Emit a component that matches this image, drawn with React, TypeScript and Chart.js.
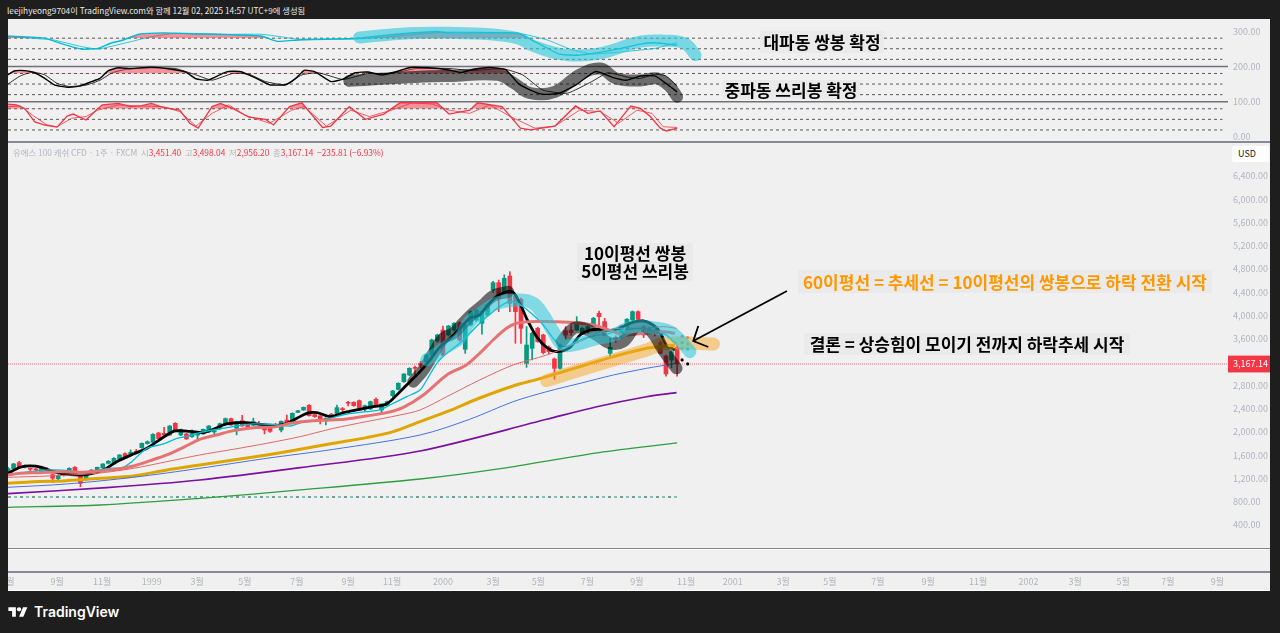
// App.tsx - US100 weekly chart with stochastic panes and hand drawn notes
import { useEffect, useRef } from 'react'
import { Chart, registerables } from 'chart.js'

Chart.register(...registerables)

type Pt = [number, number]

const FONT = '"Noto Sans CJK KR", "Noto Sans", sans-serif'
const UP = '#089981'
const DOWN = '#f23645'
const lastClose = 3167.14

// weekly candles, week 0 = first bar on the left
const opens = [1288,1369,1472,1397,1369,1357,1317,1363,1266,1197,1265,1288,1392,1248,1185,1283,1311,1380,1460,1449,1535,1627,1621,1665,1730,1799,1821,1982,1976,1947,2148,1947,1965,1919,1945,1965,1999,1999,2056,2131,2228,2062,2194,2131,2115,2148,2108,2079,2120,2033,2205,2177,2337,2377,2457,2297,2274,2194,2303,2303,2394,2503,2509,2538,2389,2394,2560,2377,2463,2624,2732,2864,2979,3110,3179,3208,3322,3563,3752,3666,3752,3878,3420,3838,3924,3867,4010,4440,4566,4411,4681,4337,4279,3179,3437,3781,3666,3454,3254,3093,3741,3752,3752,3695,3723,3821,4039,3896,3351,3626,3626,3781,3924,4067,3810,3781,3752,3535,3305,3236,3451.4]
const highs = [1392,1460,1495,1430,1380,1380,1410,1385,1290,1262,1300,1385,1405,1262,1300,1350,1395,1455,1510,1560,1610,1640,1690,1700,1810,1845,1970,1995,2079,2110,2160,2050,1975,2035,1975,2050,2110,2030,2150,2240,2240,2185,2285,2140,2235,2180,2115,2095,2150,2190,2290,2330,2370,2430,2470,2310,2320,2245,2320,2460,2420,2526,2520,2550,2460,2530,2585,2480,2530,2715,2845,3005,3105,3130,3215,3335,3595,3680,3821,3830,3880,3890,3850,4080,4110,4080,4195,4590,4610,4700,4755,4350,4300,3810,3710,3800,3680,3480,3270,3510,3810,3840,3981,3795,3825,3970,4079,3953,3610,3650,3835,3950,4080,4080,3825,3800,3770,3560,3320,3400,3498.04]
const lows = [1254,1340,1380,1380,1300,1315,1300,1295,1128,1175,1240,1270,1265,1059,1165,1275,1300,1370,1450,1440,1525,1540,1610,1640,1720,1790,1815,1870,1940,1940,2000,1935,1870,1905,1860,1955,1990,1936,2045,2120,2110,1950,2095,2050,2105,2120,1965,1990,2095,2000,2160,2165,2330,2370,2270,2250,2136,2120,2260,2295,2330,2446,2440,2400,2349,2385,2430,2308,2450,2600,2720,2850,2965,2950,3100,3190,3300,3540,3300,3650,3735,3560,3351,3825,3900,3680,3990,4400,4067,4390,4067,3523,3523,3110,3236,3540,3340,3340,2904,3080,3580,3660,3740,3680,3700,3810,3838,3650,3300,3540,3610,3770,3900,3920,3620,3700,3650,3340,2960,3100,2956.2]
const closes = [1369,1449,1392,1420,1357,1346,1392,1306,1203,1243,1290,1374,1277,1117,1288,1346,1392,1449,1495,1546,1604,1552,1650,1650,1804,1833,1959,1884,1947,2102,2010,2045,1879,1976,1960,2045,2102,2020,2142,2228,2119,2177,2102,2062,2177,2130,2033,2010,2105,2182,2170,2320,2365,2423,2280,2263,2217,2234,2263,2418,2383,2492,2452,2406,2452,2520,2446,2480,2520,2704,2836,2996,3093,3093,3145,3322,3580,3666,3322,3821,3867,3580,3838,4067,4096,4067,4182,4566,4297,4640,4211,4067,3781,3494,3695,3552,3363,3380,3093,3494,3666,3707,3867,3781,3810,3953,3981,3666,3454,3592,3821,3936,4067,3936,3666,3723,3695,3351,2996,3380,lastClose]
const weeks = opens.map((_, i) => i)

// moving averages as [week, price]
const ma5: Pt[] = [[0,1288],[2.2,1392],[4,1415],[6,1392],[8.1,1317],[11.1,1266],[14.1,1266],[17.1,1346],[19.5,1489],[22.5,1621],[24.9,1718],[26.7,1833],[28.5,1947],[30,2016],[32.6,2010],[35,1987],[36.8,2045],[39.2,2137],[42.2,2165],[44.6,2137],[48.2,2114],[50,2148],[51.8,2234],[53.6,2320],[55.4,2331],[57.8,2263],[60.2,2331],[63.1,2389],[65.5,2435],[67.9,2480],[70.3,2692],[72.1,2864],[73.9,3036],[75.7,3237],[77.5,3466],[79.3,3609],[81.1,3781],[82.8,3953],[84.6,4010],[85.8,4153],[87.6,4325],[89.1,4400],[90.6,4400],[91.8,4211],[93,3953],[94.8,3638],[96.6,3454],[98.4,3380],[100.8,3454],[102.6,3666],[104.4,3752],[106.2,3764],[108,3741],[109.7,3781],[111.5,3867],[113.9,3907],[115.7,3838],[116.9,3724],[118.1,3494],[119.6,3408]]
const ma10: Pt[] = [[0,1254],[4,1317],[7.5,1346],[11,1334],[13.5,1288],[17.7,1369],[20.7,1392],[22.2,1489],[24.9,1718],[27.9,1793],[30.3,1890],[31.8,1919],[34.4,1987],[36.8,2033],[40.4,2091],[44,2137],[48.2,2125],[50.6,2102],[53,2171],[56,2194],[58.4,2251],[60.8,2308],[64.3,2348],[66.7,2377],[68.5,2463],[71.5,2606],[73.9,2721],[75.1,2893],[76.9,3179],[78.7,3351],[81,3523],[83.4,3752],[85.2,3924],[87,4067],[89.1,4211],[90.6,4239],[92.4,4153],[94.2,4010],[96,3838],[97.8,3609],[99.3,3466],[100.8,3494],[102.6,3580],[105,3649],[107.4,3683],[109.7,3741],[113.3,3781],[115.7,3752],[118.1,3666],[119.3,3552],[120,3523]]
const ma20: Pt[] = [[0,1260],[2.2,1288],[5.7,1300],[9.3,1317],[12.9,1306],[16.5,1329],[19.5,1357],[22.5,1415],[25.5,1506],[28.5,1604],[31.5,1735],[34.4,1873],[37.4,1947],[40.4,2022],[44,2073],[48.2,2091],[50.6,2148],[54.2,2188],[57.8,2205],[60.8,2222],[64.3,2274],[67.9,2331],[70.9,2423],[74.5,2635],[78.7,2979],[82.2,3151],[84.6,3351],[87,3580],[89.4,3781],[91.2,3867],[93.6,3896],[96.6,3896],[101.4,3878],[105,3838],[108.6,3724],[110.3,3666],[113.9,3695],[117.5,3724],[119.6,3695]]
const ma30: Pt[] = [[0,1220],[7.5,1243],[15.9,1288],[22.5,1374],[28.5,1489],[34.4,1604],[40.4,1701],[46.4,1804],[52.4,1919],[58.4,2062],[64.3,2177],[70.3,2291],[73.9,2377],[78.7,2606],[84.6,2893],[90.6,3151],[96.6,3322],[102.6,3552],[106.2,3724],[109.7,3781],[113.9,3781],[117.5,3810],[119.9,3781]]
const ma60: Pt[] = [[0,1117],[4.5,1145],[10.5,1162],[16.5,1202],[22.5,1243],[28.5,1346],[34.4,1432],[40.4,1518],[46.4,1604],[52.4,1701],[58.4,1804],[64.3,1902],[69.1,2005],[73.9,2177],[78.7,2348],[84.6,2583],[90.6,2790],[95.4,2916],[102.6,3122],[108.6,3294],[114.6,3437],[119.6,3494]]
const ma120: Pt[] = [[0,1048],[10.5,1105],[22.5,1220],[34.4,1374],[46.4,1546],[58.4,1701],[73.9,1947],[82.8,2217],[90.6,2520],[96.6,2692],[102.6,2835],[108.6,2979],[114.5,3093],[119.9,3179]]
const ma240: Pt[] = [[0,939],[17.7,1042],[34.4,1174],[52.4,1386],[73.9,1672],[96.6,2217],[105.6,2434],[114.5,2606],[119.9,2675]]
const ma480: Pt[] = [[0,704],[16.5,744],[34.4,859],[52.4,1002],[73.9,1191],[88.3,1370],[106,1645],[120,1810]]
const baseLevel = 881

// last projected points right of the final bar
const ma5Ahead: Pt[] = [[120.9,3237],[121.9,3168]]
const ma10Ahead: Pt[] = [[120.9,3535],[121.9,3426]]
const ma20Ahead: Pt[] = [[120.9,3644],[121.9,3620]]
const ma60Ahead: Pt[] = [[120.9,3438],[121.9,3512]]

// stochastics, stacked 0-100 / 100-200 / 200-300
const stochBigFast: Pt[] = [[0,286],[6.6,280],[9.5,265],[13.2,249],[16.1,251],[18.3,265],[20.5,274],[23.5,291],[27.8,295],[33.7,292],[39.6,290],[45.4,286],[48.3,271],[52,275],[57.1,277],[62.3,279],[67.4,288],[71.8,294],[76.9,299],[79.1,295],[91.5,294],[94.5,270],[98.9,235],[102.5,232],[108.4,246],[113.4,263],[116,267],[120,260]]
const stochBigSlow: Pt[] = [[0,284],[8.1,275],[13.2,256],[16.1,249],[18.3,256],[22,270],[25.7,284],[30,294],[39.6,291],[45.4,291],[49,284],[52,277],[57,277],[64.5,279],[71.8,289],[79,297],[91.5,294],[96.7,275],[101,248],[104.8,235],[110.6,242],[116,251],[120,267]]
const stochMidFast: Pt[] = [[0,176],[1.1,187],[3,188],[4.8,182],[6.6,166],[8.4,147],[10.6,141],[12.8,144],[15,157],[16.5,166],[18,188],[19.8,196],[22,194],[25.7,198],[29.3,192],[31.9,184],[33.7,165],[35.9,161],[38.5,180],[39.6,186],[41.8,185],[44.3,168],[46.9,148],[49.8,148],[51.6,166],[53.1,189],[55,185],[57.9,157],[60.1,164],[62.3,182],[64.5,184],[67,176],[69.6,185],[72.1,197],[75.4,196],[79.1,190],[81.3,183],[83.5,192],[86.4,197],[89.3,190],[91.5,152],[93.7,133],[95.9,121],[98.9,124],[101.8,147],[105.4,186],[108.4,169],[110.9,161],[113.4,173],[116,173],[118,152],[120,128]]
const stochMidSlow: Pt[] = [[0,150],[2.2,173],[4.4,184],[6.6,176],[8.8,152],[11,143],[14,147],[16.5,161],[18.7,182],[21.3,192],[25.7,196],[30,194],[33.7,176],[36.6,161],[40.3,180],[43.2,178],[46.2,157],[49.8,148],[52.7,176],[55.7,182],[60.1,163],[64.5,180],[68.8,180],[73.2,194],[79.1,194],[83.5,188],[88.6,194],[92.3,176],[95.9,133],[100.3,124],[104.7,157],[107.6,182],[111.3,169],[113.4,166],[116,178],[118,173],[120,144]]
const stochSmallFast: Pt[] = [[0,93],[1.5,91],[3,81],[4.8,43],[6.6,34],[8.8,28],[10.6,59],[11.7,65],[14,48],[15.8,76],[16.9,91],[19.8,95],[22,86],[23.8,88],[25.7,95],[27.8,84],[30.8,76],[32.6,39],[34.1,25],[36.6,86],[38.1,95],[40.3,81],[43.2,56],[46.2,50],[47.6,34],[50.5,86],[52.7,97],[56.4,27],[57.9,31],[61.2,86],[64.1,50],[67.4,65],[70.3,97],[76.9,97],[79.1,65],[82.8,76],[84.2,97],[88.6,86],[91.9,25],[93.7,20],[98.1,31],[101.8,88],[104,67],[106.2,74],[108.7,29],[111.7,88],[113.4,81],[115.2,58],[117,25],[118.1,17],[120,25]]
const stochSmallSlow: Pt[] = [[0,86],[2.2,88],[4.4,62],[7,34],[8.8,29],[11.4,53],[14,58],[16.1,76],[19.8,91],[23.5,88],[27.8,86],[30.8,72],[33.7,31],[36.6,67],[39.6,91],[42.5,62],[46.9,39],[50.9,76],[53.1,86],[57.1,31],[61.5,76],[64.8,58],[68.8,76],[72.5,97],[76.2,93],[79.1,76],[82.8,67],[86.4,91],[90.1,58],[94.5,25],[98.1,31],[102.5,76],[106.2,72],[109.5,39],[112.8,76],[115.5,67],[117.5,29],[120,27]]
const dashedLevels = [20, 50, 80, 120, 150, 180, 220, 250, 280]
const paneLevels = [100, 200]

// brush strokes drawn over the chart
const brushBig: Pt[] = [[63,282],[71.8,294],[79.1,295],[86.4,291],[91.5,279],[94.5,256],[100.3,232],[106.2,237],[113.4,270],[117.8,273],[121.4,265],[123.3,232]]
const brushMid: Pt[] = [[61.2,159],[71.8,169],[79.1,173],[87.9,176],[90.8,152],[93.7,124],[98.1,128],[102.5,176],[106.2,194],[109.1,166],[113.4,160],[116.4,166],[118.6,144],[120,114]]
const brushRise: Pt[] = [[72.7,2864],[74.5,3065],[76.3,3351],[78.1,3609],[79.9,3695],[81.6,3867],[83.4,4039],[85.2,4182],[87,4337],[89.7,4411]]
const brushTop: Pt[] = [[99.3,3552],[101.4,3781],[103.2,3781],[105.6,3666],[108,3523],[110.3,3552],[112.7,3810],[115.1,3752],[117.5,3408],[119.9,3093]]
const brushCyan: Pt[] = [[75.1,3237],[78.7,3466],[81,3609],[82.8,3896],[85.2,4067],[87.6,4211],[91.8,4268],[94.2,4211],[96,4010],[97.8,3724],[99.6,3494],[102.6,3523],[105.6,3609],[108.6,3666],[112.1,3810],[116.3,3781],[118.7,3724],[120.5,3580],[122.3,3380]]
const brushTrend: Pt[] = [[96.6,2881],[102.6,3065],[108.6,3237],[114.5,3408],[117.5,3512],[122.3,3523],[126.5,3512]]
const arrowShaft: Pt[] = [[139.7,4422],[122.9,3563]]
const arrowHead: Pt[] = [[123.8,3821],[122.9,3563],[125.6,3460]]

// axes
const monthTickWeeks = [0,8.8,16.9,25.8,33.9,42.5,51.8,61,68.9,78,87,95.1,103.9,112.8,121.6,130,139,147.4,156,165,174,183,191.4,200,208,216.9]
const monthTickLabels = ['7월','9월','11월','1999','3월','5월','7월','9월','11월','2000','3월','5월','7월','9월','11월','2001','3월','5월','7월','9월','11월','2002','3월','5월','7월','9월']
const priceTicks = [400,800,1200,1600,2000,2400,2800,3600,4000,4400,4800,5200,5600,6000,6400,lastClose]
const stochTicks = [0,100,200,300]

const money = (v: number) => v.toLocaleString('en-US', { minimumFractionDigits: 2, maximumFractionDigits: 2 })

function line(pts: Pt[], yAxisID: string, color: string, width: number, extra: object = {}) {
  return {
    type: 'line' as const,
    data: pts.map(([x, y]) => ({ x, y })),
    yAxisID,
    borderColor: color,
    backgroundColor: color,
    borderWidth: width,
    pointRadius: 0,
    tension: 0.3,
    order: 3,
    ...extra,
  }
}

function brush(pts: Pt[], yAxisID: string, color: string, width: number) {
  return line(pts, yAxisID, color, width, { borderCapStyle: 'round', borderJoinStyle: 'round', tension: 0.4, order: 1 })
}

function dots(pts: Pt[], color: string) {
  return line(pts, 'price', color, 0, { showLine: false, pointRadius: 1.6, pointBackgroundColor: color, pointBorderWidth: 0, order: 2 })
}

function flat(value: number, to: number, yAxisID: string, color: string, width: number, extra: object = {}): any {
  return line([[0, value], [to, value]], yAxisID, color, width, { tension: 0, order: 6, ...extra })
}

const overbought = (level: number) => ({
  fill: { target: { value: level }, above: 'rgba(242,54,69,0.5)', below: 'transparent' },
})

function Note({ left, top, width, height, color = '#000', size = 17, weight = 700, children }: any) {
  return (
    <div
      style={{
        position: 'absolute', left, top, width, height,
        display: 'flex', flexDirection: 'column', alignItems: 'center', justifyContent: 'center',
        background: '#eaeaea', color, fontSize: size, fontWeight: weight, lineHeight: '18px', whiteSpace: 'nowrap',
      }}
    >
      {children}
    </div>
  )
}

function Rule({ top, height = 2, color = '#868993' }: { top: number; height?: number; color?: string }) {
  return <div style={{ position: 'absolute', left: 8, top, width: 1262, height, background: color }} />
}

export default function App() {
  const canvasRef = useRef<HTMLCanvasElement>(null)

  useEffect(() => {
    if (!canvasRef.current) return
    const tickFont = { family: FONT, size: 9 }
    const candleColors = weeks.map((i) => (closes[i] >= opens[i] ? UP : DOWN))
    // no room reserved for labels that overhang the plot
    const fitY = (axis: any) => {
      axis.width = 42
      axis.paddingTop = 0
      axis.paddingBottom = 0
    }

    const chart = new Chart(canvasRef.current, {
      type: 'bar',
      data: {
        datasets: [
          ...dashedLevels.map((v) => flat(v, 217.8, 'stoch', '#5a5a5a', 1, { borderDash: [3, 3] })),
          ...paneLevels.map((v) => flat(v, 218.8, 'stoch', '#707279', 1.5)),

          line(stochBigFast, 'stoch', '#00bcd4', 1.4, { ...overbought(280), tension: 0.15 }),
          line(stochBigSlow, 'stoch', '#00bcd4', 0.8, { tension: 0.15 }),
          line(stochMidFast, 'stoch', '#000000', 1.4, { ...overbought(180), tension: 0.15 }),
          line(stochMidSlow, 'stoch', '#000000', 0.8, { tension: 0.15 }),
          line(stochSmallFast, 'stoch', '#f23645', 1.3, { ...overbought(80), tension: 0 }),
          line(stochSmallSlow, 'stoch', '#f23645', 0.8, { tension: 0 }),

          flat(lastClose, 218.8, 'price', 'rgba(242,54,69,0.7)', 1, { borderDash: [1, 1], order: 4 }),
          flat(baseLevel, 120, 'price', '#089981', 1, { borderDash: [3, 3], order: 4 }),
          flat(baseLevel, 120, 'price', '#f23645', 1, { borderDash: [3, 9], order: 4 }),

          {
            type: 'bar' as const,
            data: weeks.map((i) => ({ x: i, y: [lows[i], highs[i]] })),
            yAxisID: 'price',
            backgroundColor: candleColors,
            barThickness: 1,
            grouped: false,
            order: 5,
          },
          {
            type: 'bar' as const,
            data: weeks.map((i) => ({ x: i, y: [opens[i], closes[i]] })),
            yAxisID: 'price',
            backgroundColor: candleColors,
            barThickness: 4,
            grouped: false,
            minBarLength: 1,
            order: 5,
          },

          line(ma480, 'price', '#2e9e3f', 1.3),
          line(ma240, 'price', '#7b0f9e', 1.6),
          line(ma120, 'price', '#4472e0', 1),
          line(ma60, 'price', '#dfa500', 3),
          line(ma30, 'price', '#e06666', 1),
          line(ma20, 'price', '#e57373', 3),
          line(ma10, 'price', '#00bcd4', 1.3),
          line(ma5, 'price', '#000000', 2.8),
          dots(ma5Ahead, '#000000'),
          dots(ma10Ahead, '#00bcd4'),
          dots(ma20Ahead, '#e57373'),
          dots(ma60Ahead, '#dfa500'),

          brush(brushBig, 'stoch', 'rgba(38,198,218,0.6)', 12),
          brush(brushMid, 'stoch', 'rgba(0,0,0,0.55)', 12),
          brush(brushCyan, 'price', 'rgba(38,198,218,0.55)', 13),
          brush(brushRise, 'price', 'rgba(0,0,0,0.55)', 12),
          brush(brushTop, 'price', 'rgba(0,0,0,0.55)', 12),
          brush(brushTrend, 'price', 'rgba(245,166,35,0.5)', 13),
          line(arrowShaft, 'price', '#000000', 1.8, { tension: 0, order: 0 }),
          line(arrowHead, 'price', '#000000', 1.8, { tension: 0, order: 0 }),
        ] as any,
      },
      options: {
        responsive: false,
        devicePixelRatio: 1,
        animation: false,
        layout: { padding: 0, autoPadding: false },
        plugins: { legend: { display: false }, tooltip: { enabled: false } },
        scales: {
          x: {
            type: 'linear',
            offset: false,
            min: 0,
            max: 218.8,
            grid: { display: false, drawTicks: false },
            border: { display: false },
            afterBuildTicks: (axis: any) => {
              axis.ticks = monthTickWeeks.map((value) => ({ value }))
            },
            afterFit: (axis: any) => {
              axis.height = 19
              axis.paddingLeft = 0
              axis.paddingRight = 0
            },
            ticks: {
              autoSkip: false,
              maxRotation: 0,
              padding: 4,
              color: '#b2b5be',
              font: tickFont,
              callback: (v: any) => monthTickLabels[monthTickWeeks.indexOf(v)] ?? '',
            },
          },
          stoch: {
            type: 'linear',
            position: 'right',
            stack: 'panes',
            stackWeight: 127,
            min: -25.5,
            max: 334.3,
            grid: { display: false, drawTicks: false },
            border: { display: false },
            afterBuildTicks: (axis: any) => {
              axis.ticks = stochTicks.map((value) => ({ value }))
            },
            afterFit: fitY,
            ticks: { padding: 5, color: '#b2b5be', font: tickFont, callback: (v: any) => money(v) },
          },
          price: {
            type: 'linear',
            position: 'right',
            stack: 'panes',
            stackWeight: 426,
            min: -408,
            max: 6915,
            grid: { display: false, drawTicks: false },
            border: { display: false },
            afterBuildTicks: (axis: any) => {
              axis.ticks = priceTicks.map((value) => ({ value }))
            },
            afterFit: fitY,
            ticks: {
              padding: 5,
              font: tickFont,
              color: (c: any) => (c.tick.value === lastClose ? '#ffffff' : '#b2b5be'),
              showLabelBackdrop: (c: any) => c.tick.value === lastClose,
              backdropColor: DOWN,
              backdropPadding: { x: 5, y: 3 },
              callback: (v: any) => money(v),
            },
          },
        },
      },
    })

    return () => {
      chart.destroy()
    }
  }, [])

  const red = { color: DOWN }
  return (
    <div style={{ position: 'fixed', inset: 0, background: '#1e1e1e', fontFamily: FONT, overflow: 'hidden' }}>
      <div style={{ position: 'absolute', left: 7, top: 3, color: '#e8e8e8', fontSize: 8.3, whiteSpace: 'nowrap', lineHeight: '14px' }}>
        leejihyeong9704이 TradingView.com와 함께 12월 02, 2025 14:57 UTC+9에 생성됨
      </div>

      <div style={{ position: 'absolute', left: 8, top: 19, width: 1262, height: 572, background: '#f0f0f0' }}>
        <canvas ref={canvasRef} width={1262} height={572} style={{ display: 'block' }} />
      </div>

      <Rule top={141} />
      <Rule top={548} height={1} />
      <Rule top={549} height={1} color="#ffffff" />
      <Rule top={571} height={2} />
      <Rule top={590} height={1} color="#ffffff" />

      <div style={{ position: 'absolute', left: 13, top: 146, color: '#b2b5be', fontSize: 8.4, lineHeight: '12px', whiteSpace: 'nowrap' }}>
        유에스 100 캐쉬 CFD · 1주 · FXCM &nbsp;시<span style={red}>3,451.40</span> &nbsp;고<span style={red}>3,498.04</span> &nbsp;저<span style={red}>2,956.20</span> &nbsp;종<span style={red}>3,167.14</span> &nbsp;<span style={red}>−235.81 (−6.93%)</span>
      </div>

      <div
        style={{
          position: 'absolute', left: 1232, top: 146, width: 37, height: 16, background: '#ffffff', borderRadius: 2,
          color: '#131722', fontSize: 9, lineHeight: '16px', paddingLeft: 6, boxSizing: 'border-box',
        }}
      >
        USD
      </div>

      <Note left={760} top={31} width={124} height={22}>대파동 쌍봉 확정</Note>
      <Note left={722} top={80} width={138} height={19}>중파동 쓰리봉 확정</Note>
      <Note left={577} top={243} width={116} height={38}>
        <span>10이평선 쌍봉</span>
        <span>5이평선 쓰리봉</span>
      </Note>
      <Note left={798} top={270} width={414} height={23} color="#ff9800">60이평선 = 추세선 = 10이평선의 쌍봉으로 하락 전환 시작</Note>
      <Note left={804} top={333} width={326} height={22}>결론 = 상승힘이 모이기 전까지 하락추세 시작</Note>

      <svg style={{ position: 'absolute', left: 8, top: 605 }} width="20" height="15" viewBox="0 0 36 28">
        <path fill="#ffffff" d="M14 22H7V11H0V4h14v18zM28 22h-8l7.5-18h8L28 22z" />
        <circle fill="#ffffff" cx="20" cy="8" r="4" />
      </svg>
      <div style={{ position: 'absolute', left: 34, top: 602, color: '#ffffff', fontFamily: 'Inter, "Noto Sans", sans-serif', fontSize: 14, fontWeight: 600, lineHeight: '20px' }}>
        TradingView
      </div>
    </div>
  )
}
